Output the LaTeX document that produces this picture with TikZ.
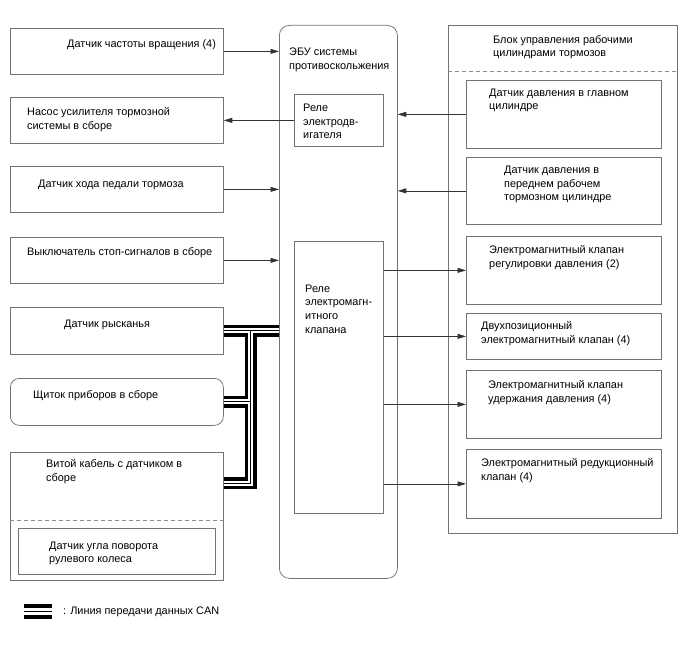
\documentclass[tikz,border=0pt]{standalone}
\usepackage{fontspec}
\setmainfont{Liberation Sans}
\usetikzlibrary{arrows.meta,calc}
\begin{document}
\begin{tikzpicture}[x=1pt,y=-1pt,
 box/.style={draw=black!55, line width=0.75pt, inner sep=0pt, anchor=north west},
 lbl/.style={anchor=north west, inner sep=0pt, align=left, font=\fontsize{10.9}{13.6}\selectfont, execute at begin node={\rule{0pt}{8.3pt}}},
 conn/.style={draw=black!80, line width=0.7pt, -{Triangle[length=8.5pt,width=5pt]}},
 dsh/.style={draw=black!45, line width=0.8pt, dash pattern=on 4pt off 3pt},
 canA/.style={line width=11.5pt, draw=black},
 canB/.style={line width=5pt, draw=white},
 canC/.style={line width=0.8pt, draw=black},
]
\useasboundingbox (0,0) rectangle (688,658);
% left boxes
\node[box, minimum width=213pt, minimum height=46pt] (b1) at (10,28) {};
\node[box, minimum width=213pt, minimum height=46pt] (b2) at (10,97) {};
\node[box, minimum width=213pt, minimum height=46pt] (b3) at (10,166) {};
\node[box, minimum width=213pt, minimum height=46pt] (b4) at (10,237) {};
\node[box, minimum width=213pt, minimum height=47pt] (yaw) at (10,307) {};
\node[box, minimum width=213pt, minimum height=47pt, rounded corners=9pt] (clus) at (10,378) {};
\node[box, minimum width=213pt, minimum height=128pt] (cable) at (10,452) {};
\node[box, minimum width=197pt, minimum height=46pt] (steer) at (18,528) {};
% ECU
\node[box, minimum width=118pt, minimum height=553pt, rounded corners=10pt] (ecu) at (279,25) {};
\node[box, minimum width=89pt, minimum height=52pt] (rel1) at (294,94) {};
\node[box, minimum width=89pt, minimum height=272pt] (rel2) at (294,241) {};
% right block
\node[box, minimum width=229pt, minimum height=508pt] (blk) at (448,25) {};
\node[box, minimum width=195pt, minimum height=68pt] (r1) at (466,80) {};
\node[box, minimum width=195pt, minimum height=67pt] (r2) at (466,157) {};
\node[box, minimum width=195pt, minimum height=68pt] (r3) at (466,236) {};
\node[box, minimum width=195pt, minimum height=46pt] (r4) at (466,313) {};
\node[box, minimum width=195pt, minimum height=68pt] (r5) at (466,370) {};
\node[box, minimum width=195pt, minimum height=69pt] (r6) at (466,449) {};
% dashed separators
\draw[dsh] ($(blk.north west)+(0,46)$) -- ($(blk.north east)+(0,46)$);
\draw[dsh] ($(cable.north west)+(0,68)$) -- ($(cable.north east)+(0,68)$);
% labels
\node[lbl] (l1) at (67,39.5) {Датчик частоты вращения (4)};
\node[lbl] (l2) at (27,107.5) {Насос усилителя тормозной\\системы в сборе};
\node[lbl] (l3) at (38,178.5) {Датчик хода педали тормоза};
\node[lbl] (l4) at (27,246.5) {Выключатель стоп-сигналов в сборе};
\node[lbl] (l5) at (64,318.5) {Датчик рысканья};
\node[lbl] (l6) at (33,390) {Щиток приборов в сборе};
\node[lbl] (l7) at (46,459.5) {Витой кабель с датчиком в\\сборе};
\node[lbl] (l8) at (49,541.5) {Датчик угла поворота\\рулевого колеса};
\node[lbl] (l9) at (289,48) {ЭБУ системы\\противоскольжения};
\node[lbl] (l10) at (303,104) {Реле\\электродв-\\игателя};
\node[lbl] (l11) at (305,284.5) {Реле\\электромагн-\\итного\\клапана};
\node[lbl] (l12) at (493,35) {Блок управления рабочими\\цилиндрами тормозов};
\node[lbl] (l13) at (489,88.5) {Датчик давления в главном\\цилиндре};
\node[lbl] (l14) at (504,166) {Датчик давления в\\переднем рабочем\\тормозном цилиндре};
\node[lbl] (l15) at (489,245.5) {Электромагнитный клапан\\регулировки давления (2)};
\node[lbl] (l16) at (481,321.5) {Двухпозиционный\\электромагнитный клапан (4)};
\node[lbl] (l17) at (488,380.5) {Электромагнитный клапан\\удержания давления (4)};
\node[lbl] (l18) at (481,458.5) {Электромагнитный редукционный\\клапан (4)};
% connectors
\draw[conn] (b1.east) -- (b1.east -| ecu.west);
\draw[conn] (rel1.west) -- (rel1.west -| b2.east);
\draw[conn] (b3.east) -- (b3.east -| ecu.west);
\draw[conn] (b4.east) -- (b4.east -| ecu.west);
\draw[conn] (r1.west) -- (r1.west -| ecu.east);
\draw[conn] (r2.west) -- (r2.west -| ecu.east);
\foreach \t in {r3,r4,r5,r6} \draw[conn] (rel2.east |- \t.west) -- (\t.west);
% CAN bus
\coordinate (j) at ($(yaw.east)+(27,0)$);
\coordinate (cin) at ($(cable.north east)+(0,31)$);
\foreach \s in {canA,canB,canC} {
  \draw[\s] (yaw.east) -- (yaw.east -| ecu.west);
  \draw[\s] (j) |- (clus.east);
  \draw[\s] (j) |- (cin);
}
% legend
\coordinate (lg1) at (24,611);
\coordinate (lg2) at (52,611);
\draw[line width=15pt, draw=black] (lg1) -- (lg2);
\draw[line width=7pt, draw=white] (lg1) -- (lg2);
\draw[line width=0.8pt, draw=black] (lg1) -- (lg2);
\node[anchor=west, inner sep=0pt, font=\fontsize{10.9}{12}\selectfont] (lgt) at (63,612) {: Линия передачи данных CAN};
\end{tikzpicture}
\end{document}
